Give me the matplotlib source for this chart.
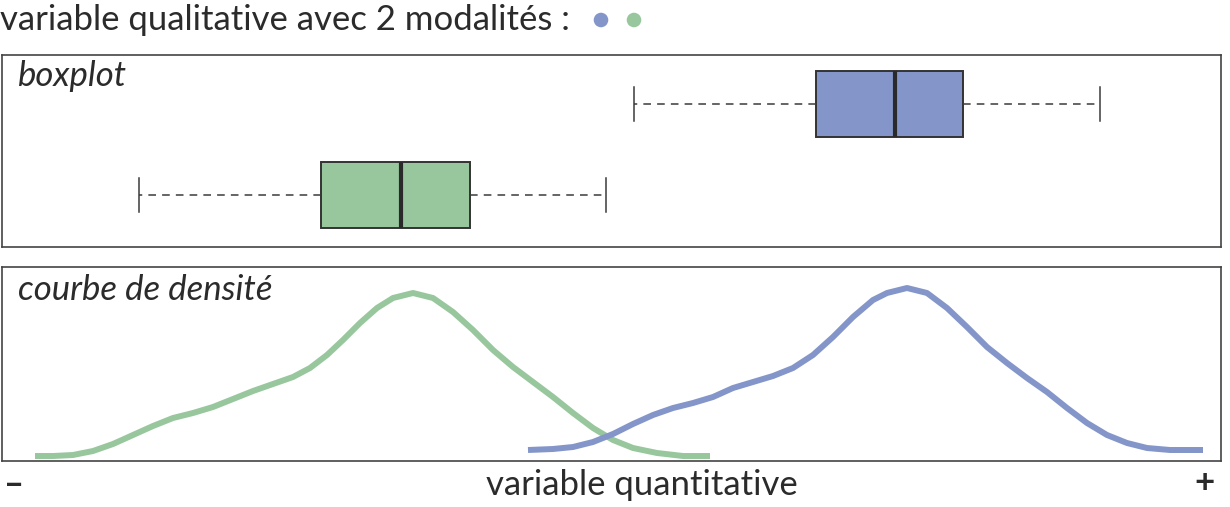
import matplotlib
matplotlib.use("Agg")
import matplotlib.pyplot as plt

# ---- data (arbitrary quantitative scale) ----
groups = ["bleu", "vert"]
colors = {"bleu": "#8496c9", "vert": "#98c79d"}

# boxplot statistics
whislo = [634, 139]
q1 = [816, 321]
med = [895, 401]
q3 = [963, 470]
whishi = [1100, 606]

# density curves (x, height)
green_x = [35, 53, 73, 93, 113, 133, 153, 173, 193, 213, 233, 253, 273, 293, 310, 327, 343,
           360, 377, 393, 413, 433, 453, 473, 493, 513, 533, 553, 573, 593, 613, 633,
           657, 683, 710]
green_y = [5, 5, 6, 10, 17, 26, 35, 43, 48, 54, 62, 70, 77, 84, 93, 106, 121,
           138, 153, 163, 168, 163, 149, 131, 111, 94, 79, 64, 48, 33, 21, 13,
           8, 5, 5]
blue_x = [528, 553, 573, 593, 613, 633, 653, 673, 693, 713, 733, 753, 773, 793, 813, 833,
          853, 873, 887, 907, 927, 947, 967, 987, 1007, 1027, 1047, 1067, 1087, 1107,
          1127, 1147, 1170, 1203]
blue_y = [11, 12, 14, 19, 27, 37, 46, 53, 58, 64, 73, 79, 85, 93, 106, 124,
          144, 161, 168, 173, 168, 153, 134, 114, 98, 83, 69, 53, 38, 26,
          18, 13, 11, 11]

W, H = 1230, 507
fig = plt.figure(figsize=(W / 100, H / 100), dpi=100)
FONT = "Lato"
FS = 25
TXT = "#2b2b2b"

def axrect(x0, y0, x1, y1):
    return [x0 / W, 1 - y1 / H, (x1 - x0) / W, (y1 - y0) / H]

XMIN, XMAX = 2, 1221
frame_col = "#444444"

# ---- boxplot panel ----
ax1 = fig.add_axes(axrect(XMIN, 55, XMAX, 247))
stats = []
for i, g in enumerate(groups):
    stats.append(dict(whislo=whislo[i], q1=q1[i], med=med[i], q3=q3[i], whishi=whishi[i], fliers=[]))
bp = ax1.bxp(stats, positions=[2, 1], widths=0.72, vert=False, patch_artist=True,
             showfliers=False, capwidths=0.37,
             boxprops=dict(edgecolor="#333333", linewidth=1.4),
             medianprops=dict(color="#2a2a2a", linewidth=3.0, solid_capstyle="butt"),
             whiskerprops=dict(color="#3a3a3a", linewidth=1.1, linestyle=(0, (5, 4))),
             capprops=dict(color="#3a3a3a", linewidth=1.1))
for patch, g in zip(bp["boxes"], groups):
    patch.set_facecolor(colors[g])
ax1.set_xlim(XMIN, XMAX)
ax1.set_ylim(1 - 52 / 91, 2 + 49 / 91)
ax1.set_xticks([]); ax1.set_yticks([])
for s in ax1.spines.values():
    s.set_color(frame_col); s.set_linewidth(1.2)
ax1.text(16 / (XMAX - XMIN), 1 - 21 / 192, "boxplot", transform=ax1.transAxes, fontsize=FS,
         style="italic", family=FONT, color=TXT, va="center", ha="left")

# ---- density panel ----
ax2 = fig.add_axes(axrect(XMIN, 267, XMAX, 461))
ax2.plot(green_x, green_y, color=colors["vert"], linewidth=4.3,
         solid_capstyle="butt", solid_joinstyle="round")
ax2.plot(blue_x, blue_y, color=colors["bleu"], linewidth=4.3,
         solid_capstyle="butt", solid_joinstyle="round")
ax2.set_xlim(XMIN, XMAX)
ax2.set_ylim(0, 194)
ax2.set_xticks([]); ax2.set_yticks([])
for s in ax2.spines.values():
    s.set_color(frame_col); s.set_linewidth(1.2)
ax2.text(16 / (XMAX - XMIN), 1 - 23 / 194, "courbe de densité", transform=ax2.transAxes, fontsize=FS,
         style="italic", family=FONT, color=TXT, va="center", ha="left")

# ---- texts ----
fig.text(0 / W, 1 - 20 / H, "variable qualitative avec 2 modalités :", fontsize=FS,
         family=FONT, color=TXT, va="center", ha="left")
fig.text(642 / W, 1 - 485 / H, "variable quantitative", fontsize=FS, family=FONT,
         color=TXT, va="center", ha="center")
fig.text(4 / W, 1 - 485 / H, "–", fontsize=FS, family=FONT, color=TXT,
         va="center", ha="left", fontweight="bold")
fig.text(1204 / W, 1 - 483 / H, "+", fontsize=FS, family=FONT, color=TXT,
         va="center", ha="center", fontweight="bold")

# legend dots
dot_ax = fig.add_axes([0, 0, 1, 1], facecolor="none")
dot_ax.set_xlim(0, W); dot_ax.set_ylim(H, 0); dot_ax.axis("off")
dot_ax.scatter([601, 634], [20, 20], s=110, c=[colors["bleu"], colors["vert"]], linewidths=0)

fig.savefig("out.png", dpi=100)
